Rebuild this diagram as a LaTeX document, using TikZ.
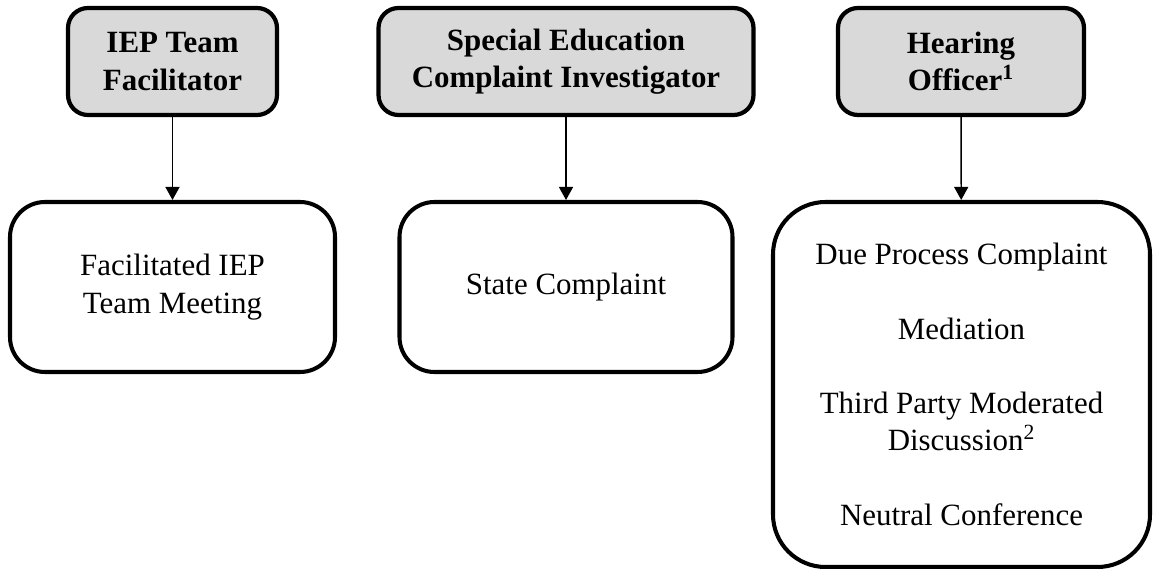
\documentclass[tikz,border=0pt]{standalone}
\usepackage{fontspec}
\setmainfont{Liberation Serif}
\usetikzlibrary{arrows.meta}

\definecolor{boxgray}{HTML}{D9D9D9}

\begin{document}
\begin{tikzpicture}[
font=\fontsize{17.6}{21.2}\selectfont,
role/.style={draw,line width=2.4pt,fill=boxgray,rounded corners=0.4cm,
  minimum width=#1,minimum height=2.14cm,inner sep=0pt,align=center,font=\fontsize{17.6}{21.2}\selectfont\bfseries},
process/.style={draw,line width=2.3pt,fill=white,rounded corners=0.7cm,
  minimum height=3.4cm,inner sep=0pt,align=center},
linkarrow/.style={line width=0.8pt,-{Triangle[width=0.28cm,length=0.26cm]}}]

\useasboundingbox (0,0) rectangle (23.12,-11.38);

% Roles
\node[role=4.18cm] (facilitator) at (3.45,-1.23) {IEP Team\\Facilitator};
\node[role=7.5cm] (investigator) at (11.32,-1.23) {Special Education\\Complaint Investigator};
\node[role=4.92cm] (officer) at (19.22,-1.23) {Hearing\\Officer\textsuperscript{1}};

% Processes
\node[process,minimum width=6.5cm] (meeting) at (3.45,-5.74) {Facilitated IEP\\Team Meeting};
\node[process,minimum width=6.66cm] (state) at (11.32,-5.74) {State Complaint};
\node[process,minimum width=7.54cm,minimum height=7.3cm,rounded corners=1.05cm] (dueprocess) at (19.23,-7.69)
  {Due Process Complaint\\[\baselineskip]Mediation\\[\baselineskip]Third Party Moderated\\Discussion\textsuperscript{2}\\[\baselineskip]Neutral Conference};

\draw[linkarrow] (facilitator) -- (meeting);
\draw[linkarrow] (investigator) -- (state);
\draw[linkarrow] (officer) -- (dueprocess);

\end{tikzpicture}
\end{document}
